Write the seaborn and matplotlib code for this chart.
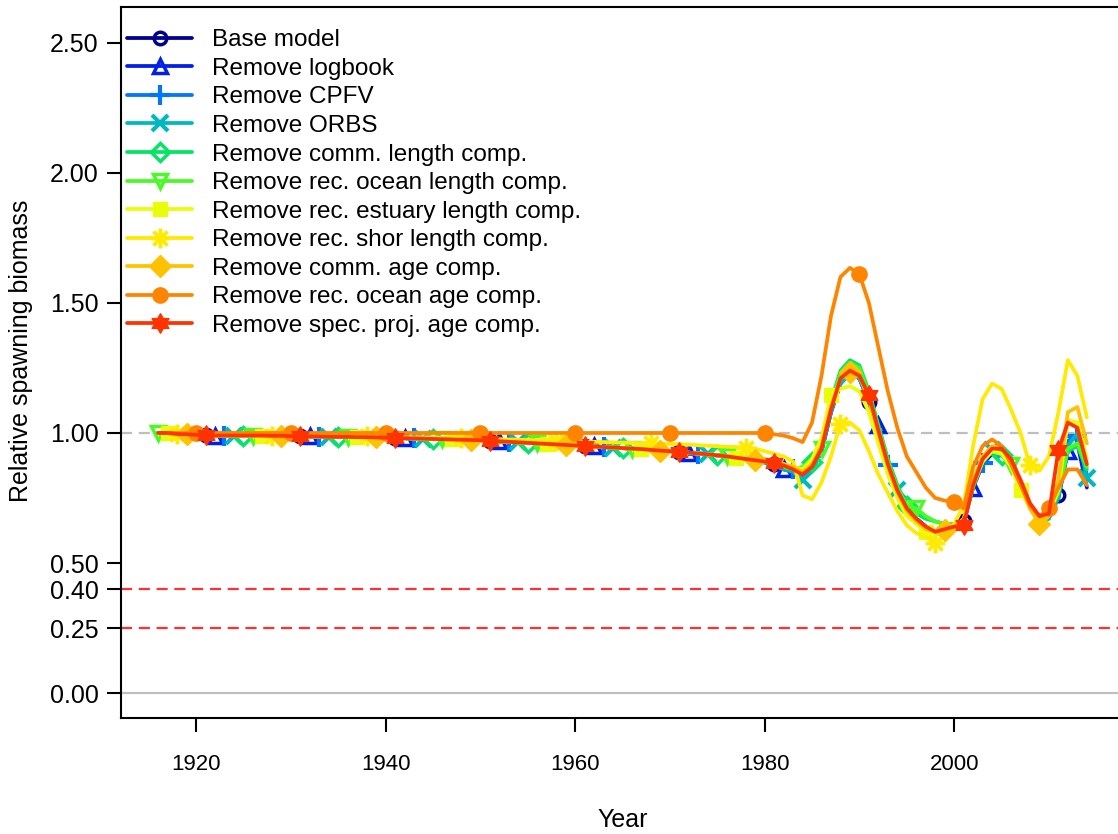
import matplotlib
matplotlib.use("Agg")
import matplotlib.pyplot as plt
import pandas as pd
import seaborn as sns
from matplotlib.lines import Line2D
from matplotlib.path import Path

# values
years = list(range(1916, 2015))

labels = [
    "Base model",
    "Remove logbook",
    "Remove CPFV",
    "Remove ORBS",
    "Remove comm. length comp.",
    "Remove rec. ocean length comp.",
    "Remove rec. estuary length comp.",
    "Remove rec. shor length comp.",
    "Remove comm. age comp.",
    "Remove rec. ocean age comp.",
    "Remove spec. proj. age comp.",
]
colors = [
    "#000091", "#0020E6", "#0076FC", "#00B8BF", "#04E465", "#49FB25",
    "#E7FD09", "#FEEA02", "#FFC200", "#FF8500", "#FF3300",
]

# 1916-1979
early_common = [
    1.000, 1.000, 0.996, 0.995, 0.993, 0.991, 0.990, 0.990, 0.990, 0.990,
    0.990, 0.990, 0.989, 0.989, 0.988, 0.988, 0.987, 0.986, 0.985, 0.985,
    0.985, 0.984, 0.984, 0.983, 0.982, 0.981, 0.980, 0.979, 0.978, 0.977,
    0.976, 0.975, 0.974, 0.973, 0.972, 0.970, 0.968, 0.966, 0.964, 0.962,
    0.960, 0.958, 0.956, 0.954, 0.952, 0.950, 0.948, 0.946, 0.944, 0.942,
    0.940, 0.938, 0.935, 0.932, 0.930, 0.927, 0.924, 0.921, 0.918, 0.914,
    0.910, 0.905, 0.900, 0.895,
]
early_shor = [
    1.000, 1.000, 0.997, 0.996, 0.994, 0.992, 0.991, 0.991, 0.991, 0.991,
    0.991, 0.991, 0.990, 0.990, 0.990, 0.990, 0.989, 0.988, 0.988, 0.988,
    0.988, 0.987, 0.987, 0.986, 0.986, 0.985, 0.984, 0.983, 0.983, 0.982,
    0.981, 0.981, 0.980, 0.979, 0.978, 0.977, 0.976, 0.975, 0.974, 0.973,
    0.972, 0.971, 0.970, 0.969, 0.968, 0.967, 0.966, 0.965, 0.964, 0.963,
    0.962, 0.961, 0.960, 0.959, 0.958, 0.957, 0.955, 0.953, 0.951, 0.949,
    0.947, 0.946, 0.944, 0.940,
]
early_flat = [1.0] * 64

# 1980-2014
base_late = [0.890, 0.880, 0.870, 0.855, 0.830, 0.860, 0.930, 1.080, 1.190, 1.230,
             1.210, 1.120, 1.000, 0.870, 0.780, 0.710, 0.670, 0.640, 0.620, 0.630,
             0.640, 0.660, 0.800, 0.890, 0.930, 0.930, 0.890, 0.810, 0.720, 0.670,
             0.680, 0.760, 0.960, 0.990, 0.830]
logbook_late = [0.890, 0.875, 0.860, 0.850, 0.830, 0.860, 0.940, 1.090, 1.200, 1.240,
                1.220, 1.130, 1.030, 0.880, 0.780, 0.710, 0.670, 0.640, 0.620, 0.630,
                0.640, 0.660, 0.790, 0.880, 0.920, 0.930, 0.890, 0.810, 0.720, 0.670,
                0.680, 0.750, 0.930, 0.960, 0.790]
cpfv_late = [0.890, 0.880, 0.865, 0.860, 0.830, 0.860, 0.930, 1.080, 1.190, 1.230,
             1.210, 1.120, 1.000, 0.875, 0.780, 0.710, 0.670, 0.640, 0.620, 0.630,
             0.640, 0.660, 0.810, 0.885, 0.930, 0.930, 0.890, 0.810, 0.720, 0.670,
             0.680, 0.770, 0.970, 0.990, 0.840]
orbs_late = [0.885, 0.875, 0.860, 0.850, 0.820, 0.855, 0.930, 1.080, 1.190, 1.230,
             1.210, 1.120, 1.000, 0.870, 0.780, 0.710, 0.660, 0.630, 0.610, 0.620,
             0.630, 0.650, 0.810, 0.900, 0.935, 0.930, 0.890, 0.810, 0.710, 0.660,
             0.670, 0.750, 0.950, 1.000, 0.825]
comm_len_late = [0.890, 0.880, 0.870, 0.860, 0.860, 0.890, 0.960, 1.120, 1.240, 1.280,
                 1.260, 1.160, 1.030, 0.900, 0.800, 0.720, 0.690, 0.670, 0.660, 0.650,
                 0.650, 0.660, 0.790, 0.890, 0.935, 0.915, 0.870, 0.800, 0.720, 0.680,
                 0.690, 0.770, 0.930, 0.950, 0.860]
ocean_len_late = [0.890, 0.880, 0.870, 0.860, 0.870, 0.900, 0.940, 1.110, 1.230, 1.270,
                  1.250, 1.150, 1.020, 0.890, 0.790, 0.720, 0.710, 0.680, 0.660, 0.650,
                  0.650, 0.660, 0.800, 0.890, 0.930, 0.920, 0.877, 0.800, 0.720, 0.680,
                  0.690, 0.770, 0.940, 0.960, 0.870]
estuary_late = [0.900, 0.890, 0.880, 0.870, 0.860, 0.900, 0.980, 1.146, 1.170, 1.180,
                1.160, 1.080, 0.960, 0.840, 0.750, 0.680, 0.650, 0.620, 0.610, 0.620,
                0.640, 0.660, 0.800, 0.890, 0.930, 0.920, 0.870, 0.780, 0.710, 0.670,
                0.690, 0.780, 1.050, 1.040, 0.900]
shor_late = [0.930, 0.920, 0.910, 0.890, 0.760, 0.745, 0.810, 0.910, 1.035, 1.040,
             1.010, 0.930, 0.840, 0.770, 0.700, 0.645, 0.615, 0.600, 0.578, 0.600,
             0.650, 0.720, 0.950, 1.130, 1.190, 1.170, 1.090, 1.000, 0.875, 0.855,
             0.910, 1.080, 1.280, 1.220, 1.060]
comm_age_late = [0.900, 0.890, 0.880, 0.870, 0.850, 0.880, 0.950, 1.100, 1.210, 1.235,
                 1.220, 1.130, 1.000, 0.870, 0.770, 0.700, 0.660, 0.630, 0.620, 0.627,
                 0.640, 0.670, 0.820, 0.910, 0.950, 0.940, 0.900, 0.810, 0.710, 0.650,
                 0.680, 0.820, 1.080, 1.100, 0.960]
ocean_age_late = [1.000, 0.995, 0.990, 0.980, 0.965, 1.040, 1.220, 1.450, 1.600, 1.635,
                  1.610, 1.500, 1.330, 1.160, 1.020, 0.910, 0.850, 0.790, 0.750, 0.740,
                  0.735, 0.710, 0.870, 0.950, 0.975, 0.950, 0.880, 0.800, 0.720, 0.680,
                  0.710, 0.790, 0.860, 0.860, 0.800]
spec_late = [0.890, 0.885, 0.875, 0.860, 0.840, 0.870, 0.940, 1.090, 1.210, 1.240,
             1.220, 1.146, 1.010, 0.880, 0.780, 0.710, 0.670, 0.640, 0.620, 0.630,
             0.640, 0.645, 0.800, 0.900, 0.940, 0.940, 0.900, 0.820, 0.730, 0.680,
             0.690, 0.935, 1.040, 1.020, 0.880]

series = [
    early_common + base_late,
    early_common + logbook_late,
    early_common + cpfv_late,
    early_common + orbs_late,
    early_common + comm_len_late,
    early_common + ocean_len_late,
    early_common + estuary_late,
    early_shor + shor_late,
    early_common + comm_age_late,
    early_flat + ocean_age_late,
    early_common + spec_late,
]

y_ticks = [0.0, 0.25, 0.4, 0.5, 1.0, 1.5, 2.0, 2.5]
x_ticks = [1920, 1940, 1960, 1980, 2000]

# star of David (R pch 11), both triangles wound the same way so it fills
sextile = Path(
    [(0, 1), (-0.866, -0.5), (0.866, -0.5), (0, 1),
     (0, -1), (0.866, 0.5), (-0.866, 0.5), (0, -1)],
    [Path.MOVETO, Path.LINETO, Path.LINETO, Path.CLOSEPOLY] * 2,
)
marker_styles = [
    dict(marker="o", mfc="none", ms=9, mew=2.5),
    dict(marker="^", mfc="none", ms=10, mew=2.5),
    dict(marker="+", ms=14, mew=3),
    dict(marker="x", ms=11, mew=3),
    dict(marker="D", mfc="none", ms=9, mew=2.5),
    dict(marker="v", mfc="none", ms=10, mew=2.5),
    dict(marker="s", ms=10, mew=1),
    dict(marker=(8, 2, 0), ms=14, mew=2.5),
    dict(marker="D", ms=11, mew=1),
    dict(marker="o", ms=11, mew=1),
    dict(marker=sextile, ms=14, mew=1),
]

sns.set_theme(style="ticks")
plt.rcParams["font.family"] = ["Liberation Sans", "DejaVu Sans"]
plt.rcParams["text.color"] = "black"
plt.rcParams["axes.labelcolor"] = "black"

fig = plt.figure(figsize=(11.18, 8.34), dpi=100)
ax = fig.add_axes([121 / 1118, 116 / 834, 1003 / 1118, 711 / 834])

ax.axhline(1.0, color="#BEBEBE", lw=1.6, ls=(0, (5, 3)), zorder=1)
ax.axhline(0.0, color="#BEBEBE", lw=1.6, zorder=1)
for ref in [0.4, 0.25]:
    ax.axhline(ref, color="#FF3030", lw=1.6, ls=(0, (5, 3)), zorder=1)

handles = []
for i, (label, color, vals) in enumerate(zip(labels, colors, series)):
    df = pd.DataFrame({"Year": years, "value": vals})
    sns.lineplot(data=df, x="Year", y="value", color=color, lw=2.7,
                 ax=ax, zorder=3 + i, legend=False)
    # points every 10 years, staggered by model
    pts = df[(df["Year"] - (i + 1)) % 10 == 0]
    ax.plot(pts["Year"], pts["value"], ls="none", color=color,
            zorder=3 + i, **marker_styles[i])
    handles.append(Line2D([], [], color=color, lw=2.7, **marker_styles[i]))

ax.legend(handles, labels, loc="upper left", bbox_to_anchor=(-0.001, 0.979),
          frameon=False, fontsize=17.5, handlelength=2.67, handletextpad=0.82,
          labelspacing=0.27, borderaxespad=0, borderpad=0.3)

ax.set_xlim(1912.08, 2017.92)
ax.set_ylim(-0.096, 2.638)
ax.set_xticks(x_ticks)
ax.set_xticklabels([str(x) for x in x_ticks])
ax.set_yticks(y_ticks)
ax.set_yticklabels([f"{v:.2f}" for v in y_ticks])
ax.tick_params(axis="both", direction="out", length=10, width=1.5,
               colors="black")
ax.tick_params(axis="x", pad=16, labelsize=16)
ax.tick_params(axis="y", pad=6, labelsize=18)
for side in ["left", "bottom", "top", "right"]:
    ax.spines[side].set_color("black")
    ax.spines[side].set_linewidth(1.5)

ax.set_xlabel("Year", fontsize=18, labelpad=24)
ax.set_ylabel("Relative spawning biomass", fontsize=18)
ax.yaxis.set_label_coords(-0.088, 0.517)

fig.savefig("out.png", dpi=100)
